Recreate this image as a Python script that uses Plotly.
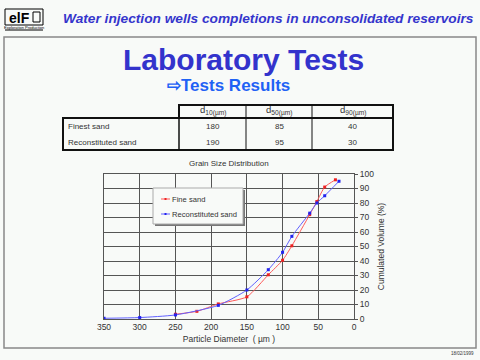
import plotly.graph_objects as go

# ---------------- data ----------------
fine_x = [250, 220, 190, 150, 120, 100, 87, 62, 52, 41, 26]
fine_y = [3.3, 5.3, 10.4, 15.3, 30.5, 40.5, 50.5, 72, 81, 91, 96]
recon_x = [350, 300, 250, 190, 150, 120, 100, 87, 62, 52, 41, 21]
recon_y = [0.5, 1.0, 2.8, 9.4, 20, 34, 46, 57, 73, 80, 85, 95]

series_names = ["Fine sand", "Reconstituted sand"]
series_colors = ["#ff5a5a", "#6060ff"]
marker_colors = ["#ee2222", "#2222ee"]

x_ticks = [350, 300, 250, 200, 150, 100, 50, 0]
y_ticks = [0, 10, 20, 30, 40, 50, 60, 70, 80, 90, 100]

table_rows = ["Finest sand", "Reconstituted sand"]
table_cols = ["d<sub>10(µm)</sub>", "d<sub>50(µm)</sub>", "d<sub>90(µm)</sub>"]
table_vals = [[180, 85, 40], [190, 95, 30]]

# ---------------- layout helpers (pixel -> paper) ----------------
W, H = 480, 360
L, R, T, B = 104, 354, 174, 319
def fx(px):
    return (px - L) / (R - L)
def fy(py):
    return (B - py) / (B - T)

BG = "#f8faf8"
FONT = "Liberation Sans, Arial, sans-serif"

fig = go.Figure()
for xs, ys, nm, lc, mc in [(fine_x, fine_y, series_names[0], series_colors[0], marker_colors[0]),
                           (recon_x, recon_y, series_names[1], series_colors[1], marker_colors[1])]:
    fig.add_trace(go.Scatter(
        x=xs, y=ys, name=nm, mode="lines+markers",
        line=dict(color=lc, width=1, shape="spline", smoothing=0.6),
        marker=dict(symbol="square", size=3, color=mc)))

shapes = []
annotations = []

def note(text, px, py, size, color="#333333", xanchor="center", family=FONT):
    annotations.append(dict(text=text, xref="paper", yref="paper",
                            x=fx(px), y=fy(py), xanchor=xanchor, yanchor="middle",
                            showarrow=False, borderpad=0,
                            font=dict(family=family, size=size, color=color)))

def rect(x0, y0, x1, y1, color="#111111", width=1, fill=None, layer="above"):
    d = dict(type="rect", xref="paper", yref="paper",
             x0=fx(x0), x1=fx(x1), y0=fy(y0), y1=fy(y1),
             line=dict(color=color, width=width), layer=layer)
    if fill:
        d["fillcolor"] = fill
    shapes.append(d)

def line(x0, y0, x1, y1, color="#111111", width=1):
    shapes.append(dict(type="line", xref="paper", yref="paper",
                       x0=fx(x0), x1=fx(x1), y0=fy(y0), y1=fy(y1),
                       line=dict(color=color, width=width)))

# slide border
rect(4, 37, 476, 348, color="#888888", width=1.5, layer="below")

# logo
rect(5, 9, 43, 25, color="#000000", width=1)
line(5, 30, 43, 30, color="#000000", width=1)
note("<b>elF</b>", 19, 17.5, 14, color="#000000")
rect(33, 12, 40, 22, color="#000000", width=1)
note("Exploration Production", 24, 27.5, 4, color="#000000")

# headings
note("<b><i>Water injection wells completions in unconsolidated reservoirs</i></b>",
     268, 18, 13.7, color="#3535cc")
note("<b>Laboratory Tests</b>", 243, 59, 30, color="#3333cc")
note("<b>⇨Tests Results</b>", 228, 86, 17, color="#1f62f5")

# table
col_edges = [179, 246, 312, 393]
row_centers = [126, 142]
rect(179, 105, 393, 118, width=2)
rect(63, 118, 393, 150, width=2)
for e in col_edges[1:-1]:
    line(e, 105, e, 150, width=1)
line(179, 105, 179, 150, width=1.5)
for j, c in enumerate(table_cols):
    cx = (col_edges[j] + col_edges[j + 1]) / 2
    note(c, cx, 110.5, 9.5)
for i, rname in enumerate(table_rows):
    note(rname, 67, row_centers[i], 8, xanchor="left")
    for j, v in enumerate(table_vals[i]):
        cx = (col_edges[j] + col_edges[j + 1]) / 2
        note(str(v), cx, row_centers[i], 8)

# chart title
note("Grain Size Distribution", 229, 163, 8)
# date
note("18/02/1999", 475, 353, 4.5, xanchor="right")

# custom legend (box with shadow)
rect(155, 190, 245, 226, color="#777777", width=0, fill="#777777")
rect(153, 188, 243, 224, color="#aaaaaa", width=1, fill=BG)
for k, (nm, lc, mc) in enumerate(zip(series_names, series_colors, marker_colors)):
    yy = 199 + 15 * k
    line(161, yy, 170, yy, color=lc, width=1)
    rect(164.5, yy - 1, 166.5, yy + 1, color=mc, width=0, fill=mc)
    note(nm, 170.5, yy, 7.6, xanchor="left")

fig.update_layout(
    width=W, height=H,
    margin=dict(l=L, r=W - R, t=T, b=H - B, pad=0, autoexpand=False),
    paper_bgcolor=BG, plot_bgcolor=BG,
    font=dict(family=FONT, size=8, color="#333333"),
    showlegend=False,
    shapes=shapes, annotations=annotations,
    xaxis=dict(range=[350, 0], tickvals=x_ticks, ticktext=[str(v) for v in x_ticks],
               automargin=False,
               showgrid=True, gridcolor="#555555", gridwidth=1, zeroline=False,
               showline=True, linecolor="#555555", mirror=True, ticks="",
               tickfont=dict(size=8.5, color="#333333"),
               title=dict(text="Particle Diameter  ( µm )", standoff=4,
                          font=dict(size=8.5, color="#333333"))),
    yaxis=dict(range=[0, 100], tickvals=y_ticks, side="right",
               automargin=False,
               showgrid=True, gridcolor="#555555", gridwidth=1, zeroline=False,
               showline=True, linecolor="#555555", mirror=True, ticks="outside",
               ticklen=3, tickcolor="#555555",
               tickfont=dict(size=8.5, color="#333333"),
               title=dict(text="Cumulated Volume (%)", standoff=4,
                          font=dict(size=8.5, color="#333333"))),
)

fig.write_html("out.html", config={"displayModeBar": False},
               post_script="document.body.style.margin='0';document.body.style.padding='0';document.body.style.overflow='hidden';")
